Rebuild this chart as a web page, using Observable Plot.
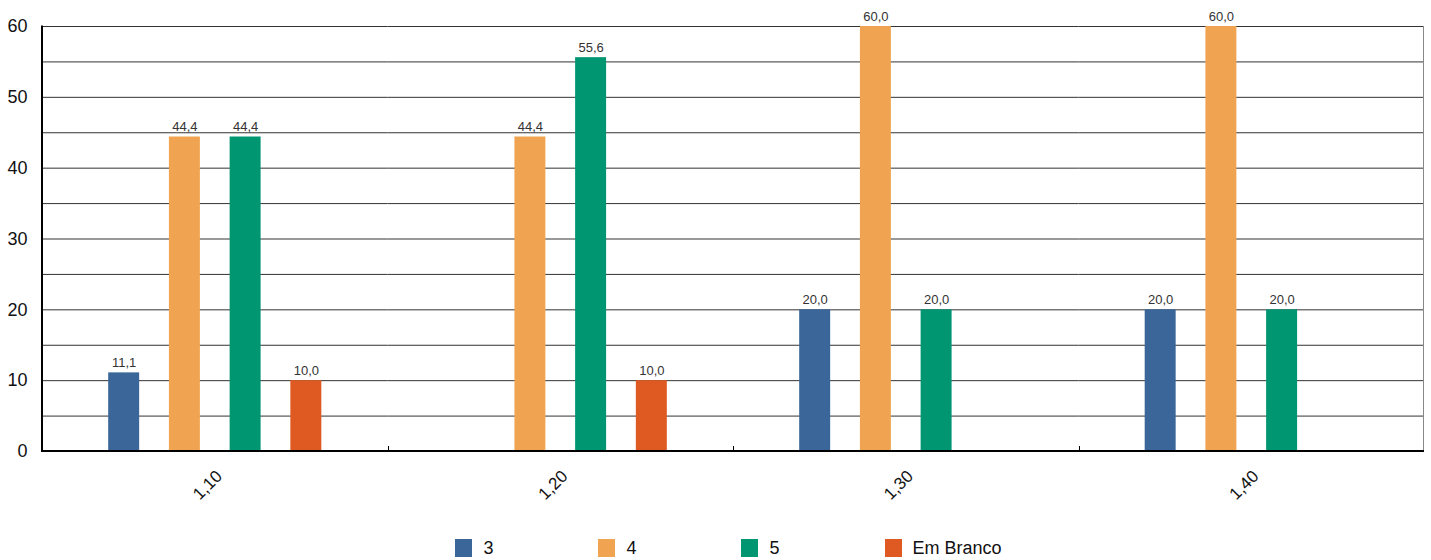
<!DOCTYPE html>
<html><head><meta charset="utf-8">
<script src="https://cdn.jsdelivr.net/npm/d3@7"></script>
<script src="https://cdn.jsdelivr.net/npm/@observablehq/plot@0.6"></script>
<style>
body{margin:0;background:#fff;font-family:"Liberation Sans",Arial,sans-serif;}
#legend{display:flex;justify-content:center;align-items:center;gap:105px;padding-left:33px;padding-right:7px;height:46px;font-size:18px;color:#111;}
.item{display:flex;align-items:center;}
.sw{width:17px;height:18px;margin-right:11px;}
</style></head><body>
<div id="chart"></div><div id="legend"></div>
<script>
const categories = ["1,10","1,20","1,30","1,40"];
const series = ["3","4","5","Em Branco"];
const colors = ["#3a6699","#f0a451","#009672","#de5a22"];
const values3 = [11.1, null, 20.0, 20.0];
const values4 = [44.4, 44.4, 60.0, 60.0];
const values5 = [44.4, 55.6, 20.0, 20.0];
const valuesEmBranco = [10.0, 10.0, null, null];
const yTicks = [0, 10, 20, 30, 40, 50, 60];
const gridValues = [5, 10, 15, 20, 25, 30, 35, 40, 45, 50, 55, 60];

const seriesValues = [values3, values4, values5, valuesEmBranco];
const rows = [];
categories.forEach((cat, i) => {
  series.forEach((s, j) => {
    const v = seriesValues[j][i];
    if (v != null) rows.push({cat, series: s, value: v});
  });
});
const fmt = v => v.toFixed(1).replace(".", ",");

const plot = Plot.plot({
  width: 1431, height: 525,
  marginLeft: 42, marginRight: 7, marginTop: 26, marginBottom: 74,
  style: {fontFamily: "Liberation Sans, Arial, sans-serif", fontSize: "13px", color: "#222", background: "#fff", overflow: "visible"},
  facet: {data: rows, x: "cat"},
  fx: {domain: categories, padding: 0, round: false, label: null, axis: "bottom", tickRotate: -45, tickSize: 0, tickPadding: 22},
  x: {domain: series, paddingInner: 0.49, paddingOuter: 1.09, round: false, axis: null},
  y: {domain: [0, 60], ticks: yTicks, tickSize: 0, tickPadding: 15, label: null, tickFormat: d => String(d)},
  color: {domain: series, range: colors},
  marks: [
    Plot.ruleY(gridValues, {stroke: "#333", strokeWidth: 1}),
    Plot.barY(rows, {x: "series", y: "value", fill: "series"}),
    Plot.text(rows, {x: "series", y: "value", text: d => fmt(d.value), dy: -10, fill: "#333", fontSize: 13})
  ]
});
document.getElementById("chart").appendChild(plot);

// structural lines from the library's scales
const svg = d3.select(plot);
const fx = plot.scale("fx");
const ys = plot.scale("y");
const x0 = fx.range[0], x1 = fx.range[1];
const yb = ys.range[0], yt = ys.range[1];
const g = svg.append("g");
g.append("line").attr("x1", x1 - 0.5).attr("x2", x1 - 0.5).attr("y1", yt).attr("y2", yb).attr("stroke", "#888").attr("stroke-width", 1);
categories.slice(1).forEach(c => {
  const xp = Math.round(fx.apply(c)) + 0.5;
  g.append("line").attr("x1", xp).attr("x2", xp).attr("y1", yb - 5).attr("y2", yb).attr("stroke", "#000").attr("stroke-width", 1);
});
g.append("line").attr("x1", x0).attr("x2", x1).attr("y1", yb).attr("y2", yb).attr("stroke", "#000").attr("stroke-width", 2);
g.append("line").attr("x1", x0).attr("x2", x0).attr("y1", yt - 0.5).attr("y2", yb + 1).attr("stroke", "#000").attr("stroke-width", 2);

svg.selectAll('[aria-label^="y-axis"] text').style("font-size", "18px").attr("fill", "#111");
svg.selectAll('[aria-label^="fx-axis"] text').style("font-size", "17px").attr("fill", "#111");
svg.selectAll('g[aria-label^="fx-axis"]').each(function() {
  const t = this.getAttribute("transform") || "";
  this.setAttribute("transform", "translate(4,0) " + t);
});

// legend
const legend = d3.select("#legend");
series.forEach((s, i) => {
  const it = legend.append("div").attr("class", "item");
  it.append("div").attr("class", "sw").style("background", colors[i]);
  it.append("span").text(s);
});
</script>
</body></html>
